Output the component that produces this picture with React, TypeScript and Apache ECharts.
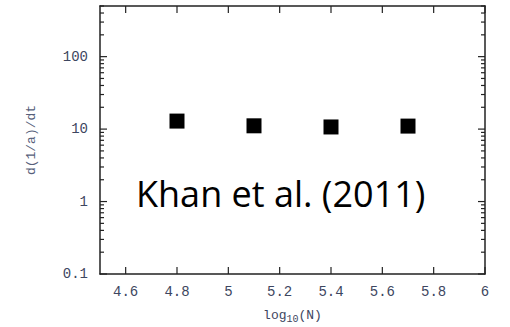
import React, { useEffect, useRef } from "react";
import * as echarts from "echarts";

const xValues = [4.8, 5.1, 5.4, 5.7];
const yValues = [12.9, 11.1, 10.7, 11.0];
const xTickValues = [4.6, 4.8, 5, 5.2, 5.4, 5.6, 5.8, 6];
const yMajorValues = [0.1, 1, 10, 100];
const yMinorValues = [
  0.2, 0.3, 0.4, 0.5, 0.6, 0.7, 0.8, 0.9,
  2, 3, 4, 5, 6, 7, 8, 9,
  20, 30, 40, 50, 60, 70, 80, 90,
  200, 300, 400, 500,
];
const annotation = "Khan et al. (2011)";

const X_MIN = 4.5;
const X_MAX = 6;
const Y_MIN = 0.1;
const Y_MAX = 500;

const labelColor = "#3d4660";
const lineColor = "#222";
const monoFont = "Liberation Mono";
const MAJOR_LEN = 7;
const MINOR_LEN = 4;
const TICK_W = 1.2;

export default function App() {
  const ref = useRef<HTMLDivElement>(null);
  useEffect(() => {
    if (!ref.current) return;
    const chart = echarts.init(ref.current, null, { renderer: "svg" });

    // tick marks drawn as thin rectangle symbols positioned by the axes' own scales
    const tickSeries = (data: number[][], size: number[], offset: number[]) => ({
      type: "scatter",
      xAxisIndex: 0,
      yAxisIndex: 0,
      silent: true,
      clip: false,
      symbol: "rect",
      symbolSize: size,
      symbolOffset: offset,
      itemStyle: { color: lineColor, opacity: 1 },
      data,
      z: 3,
    });

    chart.setOption({
      animation: false,
      grid: { left: 100, right: 25, top: 6, bottom: 53, outerBoundsMode: "none" },
      xAxis: [
        {
          type: "value",
          min: X_MIN,
          max: X_MAX,
          position: "bottom",
          name: "{a|log}{b|10}{a|(N)}",
          nameLocation: "middle",
          nameGap: 33,
          nameTextStyle: {
            rich: {
              a: { fontFamily: monoFont, fontSize: 13, color: labelColor },
              b: { fontFamily: monoFont, fontSize: 10, color: labelColor, padding: [7, 0, 0, 0] },
            },
          },
          axisLine: { show: true, onZero: false, lineStyle: { color: lineColor, width: 1.5 } },
          axisTick: { show: false },
          axisLabel: {
            show: true,
            customValues: xTickValues,
            color: labelColor,
            fontFamily: monoFont,
            fontSize: 14,
            margin: 11,
          },
          splitLine: { show: false },
        },
        {
          type: "value",
          min: X_MIN,
          max: X_MAX,
          position: "top",
          axisLine: { show: true, onZero: false, lineStyle: { color: lineColor, width: 1.5 } },
          axisTick: { show: false },
          axisLabel: { show: false },
          splitLine: { show: false },
        },
      ],
      yAxis: [
        {
          type: "log",
          logBase: 10,
          min: Y_MIN,
          max: Y_MAX,
          position: "left",
          name: "d(1/a)/dt",
          nameLocation: "middle",
          nameGap: 62,
          nameTextStyle: { fontFamily: monoFont, fontSize: 13, color: "#56607a" },
          axisLine: { show: true, onZero: false, lineStyle: { color: lineColor, width: 1.5 } },
          axisTick: { show: false },
          axisLabel: {
            show: true,
            customValues: yMajorValues,
            color: labelColor,
            fontFamily: monoFont,
            fontSize: 14,
            margin: 12,
          },
          splitLine: { show: false },
        },
        {
          type: "log",
          logBase: 10,
          min: Y_MIN,
          max: Y_MAX,
          position: "right",
          axisLine: { show: true, onZero: false, lineStyle: { color: lineColor, width: 1.5 } },
          axisTick: { show: false },
          axisLabel: { show: false },
          splitLine: { show: false },
        },
      ],
      series: [
        tickSeries(xTickValues.map((v) => [v, Y_MIN]), [TICK_W, MAJOR_LEN], [0, -MAJOR_LEN / 2]),
        tickSeries(xTickValues.map((v) => [v, Y_MAX]), [TICK_W, MAJOR_LEN], [0, MAJOR_LEN / 2]),
        tickSeries(yMajorValues.map((v) => [X_MIN, v]), [MAJOR_LEN, TICK_W], [MAJOR_LEN / 2, 0]),
        tickSeries(yMinorValues.map((v) => [X_MIN, v]), [MINOR_LEN, TICK_W], [MINOR_LEN / 2, 0]),
        tickSeries(yMajorValues.map((v) => [X_MAX, v]), [MAJOR_LEN, TICK_W], [-MAJOR_LEN / 2, 0]),
        tickSeries(yMinorValues.map((v) => [X_MAX, v]), [MINOR_LEN, TICK_W], [-MINOR_LEN / 2, 0]),
        {
          type: "scatter",
          xAxisIndex: 0,
          yAxisIndex: 0,
          symbol: "rect",
          symbolSize: 15,
          itemStyle: { color: "#000000", opacity: 1 },
          data: xValues.map((x, i) => [x, yValues[i]]),
          z: 4,
        },
      ],
      graphic: [
        {
          type: "text",
          left: 136,
          top: 175,
          style: {
            text: annotation,
            fontFamily: "Open Sans",
            fontSize: 36,
            fill: "#000000",
          },
        },
      ],
    });
    return () => chart.dispose();
  }, []);
  return <div ref={ref} style={{ width: 510, height: 327, position: "absolute", left: 0, top: 0 }} />;
}
